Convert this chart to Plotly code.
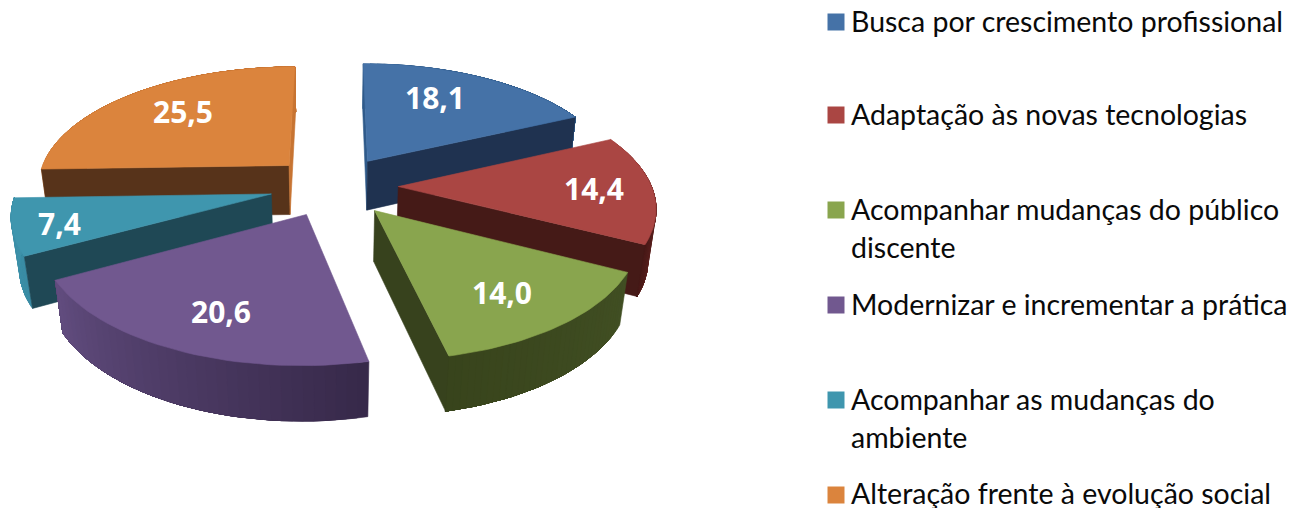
import numpy as np
import plotly.graph_objects as go

categories = ["Busca por crescimento profissional", "Adaptação às novas tecnologias",
              "Acompanhar mudanças do público<br>discente", "Modernizar e incrementar a prática",
              "Acompanhar as mudanças do<br>ambiente", "Alteração frente à evolução social"]
values = [18.1, 14.4, 14.0, 20.6, 7.4, 25.5]
top_colors = ["#4572A7", "#AA4643", "#89A54E", "#71588F", "#3F96AE", "#DB843D"]
rim_colors = [("#2F5A8A", "#2F5A8A"), ("#A0403D", "#4A1A18"), ("#414F23", "#38441C"),
              ("#37294A", "#614C7E"), ("#3A8CA4", "#3F93AB"), ("#C77432", "#C77432")]
start_wall = ["#2F5A8A", None, None, None, "#1F4855", "#57331A"]
end_wall = ["#1F3250", "#451A17", "#37421D", None, None, "#C77432"]
draw_order = [5, 0, 4, 1, 3, 2]
label_pos = [(435, 97), (594, 188), (502, 292), (221, 311), (59, 223), (183, 111)]
legend_y = [22, 115, 210, 305, 400, 495]
text_y = [21, 114, 209, 304, 399, 493]
LEG_X = 836
TXT_X = 849
LINE_GAP = 38

CX, CY, A, B, G, E, H, K = 334, 186, 253, 119, 0.15, 0.254, 51, 0.025


def project(x, y, low=False):
    d = 1 + G * y + (K if low else 0)
    return CX + A * x / d, CY + (-B * y + (H if low else 0)) / d


def hexmix(c1, c2, t):
    a = [int(c1[i:i + 2], 16) for i in (1, 3, 5)]
    b = [int(c2[i:i + 2], 16) for i in (1, 3, 5)]
    return "#" + "".join(f"{round(p + (q - p) * t):02x}" for p, q in zip(a, b))


fig = go.Figure()


def poly(xs, ys, color):
    xs, ys = list(xs), list(ys)
    fig.add_trace(go.Scatter(x=xs + [xs[0]], y=ys + [ys[0]], mode="lines", fill="toself",
                             fillcolor=color, line=dict(color=color, width=0.6),
                             hoverinfo="skip", showlegend=False))


edges = np.cumsum([0] + values) / sum(values) * 2 * np.pi
for i in draw_order:
    t0, t1 = edges[i], edges[i + 1]
    mid = (t0 + t1) / 2
    ox, oy = E * np.sin(mid), E * np.cos(mid)
    th = np.linspace(t0, t1, 37)
    rx, ry = ox + np.sin(th), oy + np.cos(th)
    tx, ty = project(rx, ry)
    bx, by = project(rx, ry, True)
    ax, ay = project(ox, oy)
    abx, aby = project(ox, oy, True)
    # each rim band runs to the far end of the slice, so the next band overpaints it without seams
    for k in range(len(th) - 1):
        col = hexmix(rim_colors[i][0], rim_colors[i][1], k / (len(th) - 2))
        poly(list(tx[k:]) + list(bx[k:][::-1]), list(ty[k:]) + list(by[k:][::-1]), col)
    if start_wall[i]:
        poly([ax, tx[0], bx[0], abx], [ay, ty[0], by[0], aby], start_wall[i])
    if end_wall[i]:
        poly([ax, tx[-1], bx[-1], abx], [ay, ty[-1], by[-1], aby], end_wall[i])
    poly([ax] + list(tx), [ay] + list(ty), top_colors[i])

fig.add_trace(go.Scatter(x=[LEG_X] * 6, y=legend_y, mode="markers", hoverinfo="skip", showlegend=False,
                         marker=dict(symbol="square", size=17, color=top_colors)))

annotations = []
for v, (x, y) in zip(values, label_pos):
    annotations.append(dict(x=x, y=y, text=f"{v:.1f}".replace(".", ","), showarrow=False,
                            font=dict(family="Noto Sans", size=30, color="white", weight="bold")))
for cat, y in zip(categories, text_y):
    for j, line in enumerate(cat.split("<br>")):
        annotations.append(dict(x=TXT_X, y=y + j * LINE_GAP, text=line, showarrow=False, xanchor="left",
                                font=dict(family="Lato", size=28.5, color="#0a0a0a")))

fig.update_layout(width=1297, height=508, autosize=False, margin=dict(l=0, r=0, t=0, b=0),
                  paper_bgcolor="white", plot_bgcolor="white", showlegend=False, annotations=annotations,
                  xaxis=dict(range=[0, 1297], visible=False, fixedrange=True),
                  yaxis=dict(range=[508, 0], visible=False, fixedrange=True))
fig.write_html("out.html", config=dict(displayModeBar=False),
               post_script="document.body.style.margin='0';document.body.style.overflow='hidden';")
